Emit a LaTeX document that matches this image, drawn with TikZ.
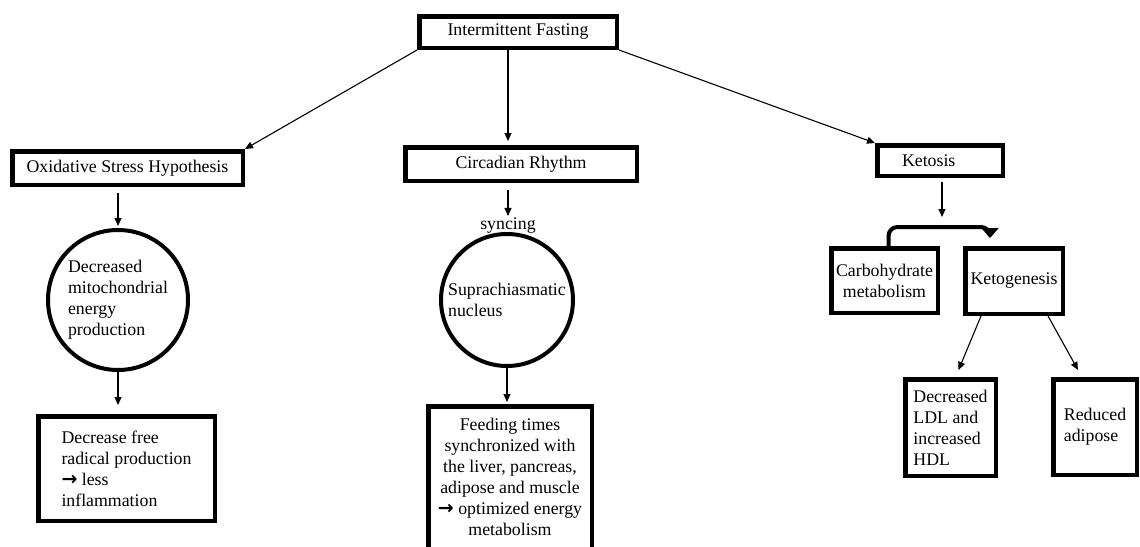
\documentclass[tikz,border=0pt]{standalone}
\usepackage{fontspec}
\setmainfont{Liberation Serif}
\newfontfamily\arrowfont{DejaVu Sans}
\newcommand{\thenarrow}{{\arrowfont\bfseries\fontsize{19}{21}\selectfont →}}
\usetikzlibrary{arrows.meta,positioning,calc}

\begin{document}
\begin{tikzpicture}[x=1pt, y=-1pt,
  every node/.style={font=\fontsize{17.8}{21}\selectfont},
  boxnode/.style={draw, line width=4.5pt, inner sep=0pt, align=center},
  circnode/.style={draw, circle, line width=4pt, inner sep=0pt, align=left},
  arr/.style={-{Triangle[length=8pt,width=7pt]}, line width=1.1pt},
  bendarr/.style={-{Triangle[length=10pt,width=17pt]}, line width=4pt, rounded corners=9pt}]
\useasboundingbox (0,0) rectangle (1140,546);
\clip (0,0) rectangle (1140,546);
% Top node and the three branches
\node[boxnode, minimum width=197.5pt, minimum height=31.5pt] (fast) at (518,32) {Intermittent Fasting};
\node[boxnode, minimum width=230.5pt, minimum height=33.5pt] (oxid) at (127.5,168) {Oxidative Stress Hypothesis};
\node[boxnode, minimum width=231.5pt, minimum height=33.5pt] (circ) at (521,164) {Circadian Rhythm};
\node[boxnode, minimum width=125.5pt, minimum height=30.5pt, text width=76pt, align=left] (ket) at (940,160.5) {Ketosis};
% Oxidative stress column
\node[circnode, minimum size=140pt] (mito) at (118,300) {Decreased\\mitochondrial\\energy\\production};
\node[boxnode, minimum width=176.5pt, minimum height=104.5pt, align=left] (radical) at (126.5,468.5)
  {Decrease free\\radical production\\\thenarrow{} less\\inflammation};
% Circadian column
\node[inner sep=2pt] (sync) at (508,226) {syncing};
\node[circnode, minimum size=132pt] (scn) at (507,300) {Suprachiasmatic\\nucleus};
\node[boxnode, minimum width=163.5pt, anchor=north, inner ysep=12pt, text depth=30pt] (feed) at (510,404)
  {Feeding times\\synchronized with\\the liver, pancreas,\\adipose and muscle\\\thenarrow{} optimized energy\\metabolism};
% Ketosis column
\coordinate (split) at (942,217);
\node[boxnode, minimum width=106.5pt, minimum height=64.5pt] (carb) at (884.5,280.5) {Carbohydrate\\metabolism};
\node[boxnode, minimum width=97.5pt, minimum height=65.5pt] (keto) at (1014,281) {Ketogenesis};
\node[boxnode, minimum width=90.5pt, minimum height=96.5pt, align=left] (ldl) at (950.5,427.5) {Decreased\\LDL and\\increased\\HDL};
\node[boxnode, minimum width=83.5pt, minimum height=95.5pt, align=left] (fat) at (1095,427) {Reduced\\adipose};
% Connectors
\draw[arr] (fast.south west) -- (oxid.north east);
\draw[arr] (fast.south east) -- (ket.north west);
\draw[arr, shorten >=4pt] (fast.south -| sync) -- (circ.north -| sync);
\draw[arr, shorten <=6pt, shorten >=2pt] (oxid.south -| mito) -- (mito.north);
\draw[arr, shorten >=9pt] (mito.south) -- (radical.north -| mito);
\draw[arr, shorten <=7pt] (circ.south -| sync) -- (sync.north);
\draw[arr, shorten >=2pt] (scn.south) -- (feed.north -| scn);
\draw[arr, shorten <=4pt] (ket.south -| split) -- (split);
\draw[bendarr] ($(carb.north)+(4,2)$) -- ++(0,-21) -| ($(keto.north)+(-24,-8)$);
\draw[arr] ($(keto.south west)+(18,0)$) -- ($(ldl.north)+(8,-7)$);
\draw[arr] ($(keto.south east)+(-17,0)$) -- ($(fat.north west)+(27,-7)$);
\end{tikzpicture}
\end{document}
